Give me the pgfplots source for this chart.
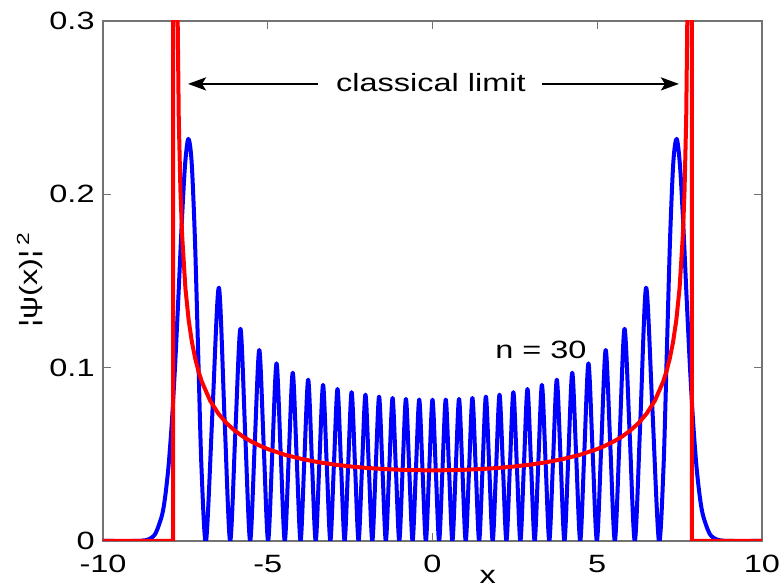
\documentclass[border=0pt]{standalone}
\usepackage{fontspec}
\setmainfont{Liberation Sans}[FakeStretch=1.3]
\usepackage{pgfplots}
\pgfplotsset{compat=1.18}
\usetikzlibrary{arrows.meta}
\newcommand\lbl{\fontsize{12.5}{15}\selectfont}

\begin{document}
\begin{tikzpicture}
\begin{axis}[
    scale only axis,
    width=329.5pt, height=260pt,
    xmin=-10, xmax=10, ymin=0, ymax=0.3,
    xtick={-10,-5,0,5,10}, xticklabels={-10,-5,0,5,10},
    ytick={0,0.1,0.2,0.3}, yticklabels={0,0.1,0.2,0.3},
    tick align=inside, tick pos=both,
    major tick length=4pt,
    axis line style={black!55, line width=0.6pt},
    tick style={black!55, line width=0.6pt},
    ticklabel style={font=\lbl, inner sep=1pt},
    xticklabel style={yshift=-6pt},
    yticklabel style={xshift=-3pt},
    clip mode=individual,
]

% |psi_30(x)|^2
\addplot[blue, line width=2pt, smooth, line join=round] coordinates {
(-10,0) (-9.010,0) (-8.810,0.0002) (-8.610,0.0010) (-8.410,0.0042) (-8.210,0.0148)
(-8.110,0.0260) (-8.010,0.0434) (-7.910,0.0687) (-7.810,0.1019) (-7.710,0.1414)
(-7.610,0.1830) (-7.510,0.2169) (-7.410,0.2320) (-7.310,0.2187) (-7.210,0.1742)
(-7.110,0.1076) (-7.010,0.0418) (-6.87100,0) (-6.66890,0.07830) (-6.48251,0.14614)
(-6.30729,0.06910) (-6.14079,0) (-5.98133,0.06338) (-5.82769,0.12243) (-5.67898,0.05937)
(-5.53452,0) (-5.39378,0.05635) (-5.25630,0.11020) (-5.12044,0.05397) (-4.98982,0)
(-4.85918,0.05209) (-4.73282,0.10247) (-4.60646,0.05049) (-4.48370,0) (-4.36093,0.04915)
(-4.24121,0.09707) (-4.12148,0.04800) (-4.00439,0) (-3.88843,0.04700) (-3.77247,0.09309)
(-3.65863,0.04614) (-3.54479,0) (-3.43285,0.04538) (-3.32090,0.09006) (-3.21058,0.04471)
(-3.10026,0) (-2.99140,0.04413) (-2.88253,0.08770) (-2.77495,0.04361) (-2.66736,0)
(-2.56091,0.04315) (-2.45446,0.08586) (-2.34902,0.04274) (-2.24357,0) (-2.13902,0.04238)
(-2.03446,0.08443) (-1.93067,0.04207) (-1.82688,0) (-1.72378,0.04179) (-1.62067,0.08332)
(-1.51815,0.04155) (-1.41563,0) (-1.31362,0.04135) (-1.21160,0.08251) (-1.11001,0.04118)
(-1.00841,0) (-0.90716,0.04104) (-0.80591,0.08195) (-0.70494,0.04093) (-0.60396,0)
(-0.50319,0.04084) (-0.40242,0.08162) (-0.30175,0.04079) (-0.20114,0) (-0.10056,0.04076)
(0,0.08151)
(0.10056,0.04076) (0.20114,0) (0.30175,0.04079) (0.40242,0.08162) (0.50319,0.04084)
(0.60396,0) (0.70494,0.04093) (0.80591,0.08195) (0.90716,0.04104) (1.00841,0)
(1.11001,0.04118) (1.21160,0.08251) (1.31362,0.04135) (1.41563,0) (1.51815,0.04155)
(1.62067,0.08332) (1.72378,0.04179) (1.82688,0) (1.93067,0.04207) (2.03446,0.08443)
(2.13902,0.04238) (2.24357,0) (2.34902,0.04274) (2.45446,0.08586) (2.56091,0.04315)
(2.66736,0) (2.77495,0.04361) (2.88253,0.08770) (2.99140,0.04413) (3.10026,0)
(3.21058,0.04471) (3.32090,0.09006) (3.43285,0.04538) (3.54479,0) (3.65863,0.04614)
(3.77247,0.09309) (3.88843,0.04700) (4.00439,0) (4.12148,0.04800) (4.24121,0.09707)
(4.36093,0.04915) (4.48370,0) (4.60646,0.05049) (4.73282,0.10247) (4.85918,0.05209)
(4.98982,0) (5.12044,0.05397) (5.25630,0.11020) (5.39378,0.05635) (5.53452,0)
(5.67898,0.05937) (5.82769,0.12243) (5.98133,0.06338) (6.14079,0) (6.30729,0.06910)
(6.48251,0.14614) (6.66890,0.07830) (6.87100,0) (7.010,0.0418) (7.110,0.1076)
(7.210,0.1742) (7.310,0.2187) (7.410,0.2320) (7.510,0.2169) (7.610,0.1830)
(7.710,0.1414) (7.810,0.1019) (7.910,0.0687) (8.010,0.0434) (8.110,0.0260)
(8.210,0.0148) (8.410,0.0042) (8.610,0.0010) (8.810,0.0002) (9.010,0) (10,0)
};

% classical probability density
\addplot[red, line width=2pt, line join=round] coordinates {
(-10,0) (-7.87,0) (-7.87,0.5) (-7.78,0.46352) (-7.75,0.32875) (-7.7,0.24342)
(-7.65,0.20223) (-7.6,0.17684) (-7.5,0.14605) (-7.4,0.12743) (-7.3,0.11464)
(-7.2,0.10517) (-7.1,0.09781) (-7.0,0.091888) (-6.75,0.081014) (-6.5,0.073510)
(-6.25,0.067960) (-6,0.063662) (-5.75,0.060222) (-5.5,0.057402) (-5.25,0.055047)
(-5,0.053052) (-4.5,0.049864) (-4,0.047451) (-3.5,0.045589) (-3,0.044142)
(-2.5,0.043019) (-2,0.042161) (-1.5,0.041529) (-1,0.041094) (-0.5,0.040839)
(0,0.040755)
(0.5,0.040839) (1,0.041094) (1.5,0.041529) (2,0.042161) (2.5,0.043019)
(3,0.044142) (3.5,0.045589) (4,0.047451) (4.5,0.049864) (5,0.053052)
(5.25,0.055047) (5.5,0.057402) (5.75,0.060222) (6,0.063662) (6.25,0.067960)
(6.5,0.073510) (6.75,0.081014) (7.0,0.091888) (7.1,0.09781) (7.2,0.10517)
(7.3,0.11464) (7.4,0.12743) (7.5,0.14605) (7.6,0.17684) (7.65,0.20223)
(7.7,0.24342) (7.75,0.32875) (7.78,0.46352) (7.87,0.5) (7.87,0) (10,0)
};

% annotations
\draw[-{Stealth[length=9pt,width=6.5pt,inset=2pt]}, line width=1.3pt]
    (axis cs:-3.475,0.2637) -- (axis cs:-7.42,0.2637);
\draw[-{Stealth[length=9pt,width=6.5pt,inset=2pt]}, line width=1.3pt]
    (axis cs:3.32,0.2637) -- (axis cs:7.48,0.2637);
\node[font=\lbl] at (axis cs:-0.05,0.2643) {classical limit};
\node[font=\lbl] at (axis cs:3.29,0.1102) {n = 30};
\node[font=\lbl] at (axis cs:1.68,-0.0208) {x};
\node[font=\lbl, rotate=90] at (axis cs:-12.215,0.1506) {¦ψ(x)¦\,\textsuperscript{2}};

% page frame
\coordinate (bbSW) at (axis cs:-13.126,-0.02597);
\coordinate (bbNE) at (axis cs:10.577,0.31212);
\end{axis}
\pgfresetboundingbox
\path[use as bounding box] (bbSW) rectangle (bbNE);
\end{tikzpicture}
\end{document}
